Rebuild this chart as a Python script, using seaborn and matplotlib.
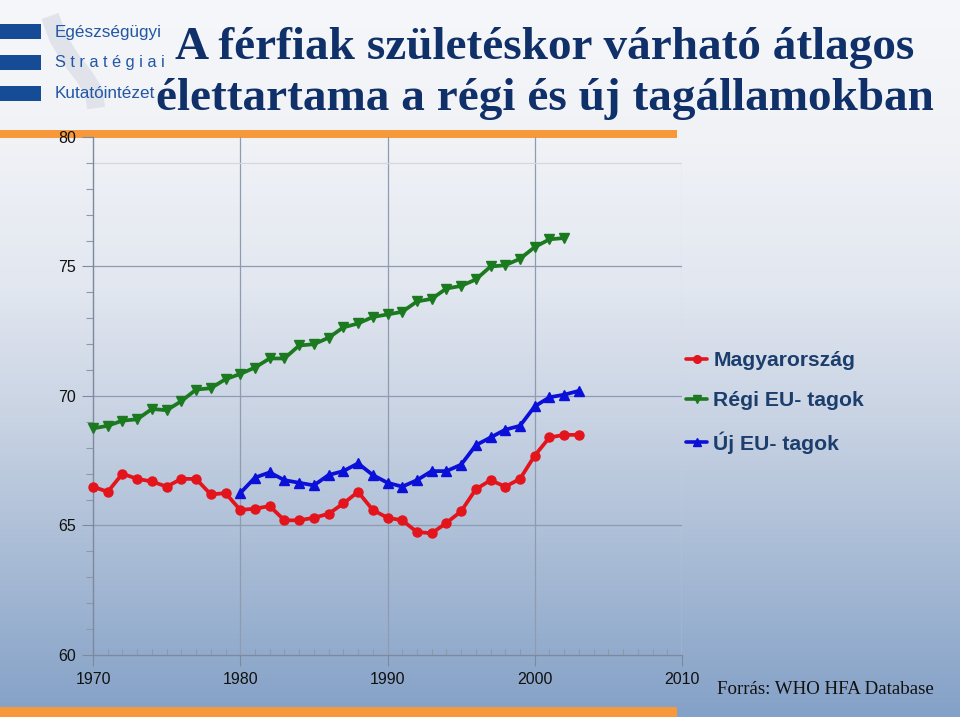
import numpy as np
import pandas as pd
import matplotlib
matplotlib.use("Agg")
import matplotlib.pyplot as plt
from matplotlib.lines import Line2D
from matplotlib.colors import LinearSegmentedColormap
from matplotlib.ticker import MultipleLocator
import seaborn as sns

# ---------------- data ----------------
years_hu = list(range(1970, 2004))
hungary = [66.5, 66.3, 67.0, 66.8, 66.7, 66.5, 66.8, 66.8, 66.2, 66.25,
           65.6, 65.65, 65.75, 65.2, 65.2, 65.3, 65.45, 65.85, 66.3, 65.6,
           65.3, 65.2, 64.75, 64.7, 65.1, 65.55, 66.4, 66.75, 66.5, 66.8,
           67.7, 68.4, 68.5, 68.5]
years_old = list(range(1970, 2003))
old_eu = [68.75, 68.85, 69.05, 69.1, 69.5, 69.45, 69.8, 70.25, 70.3, 70.65,
          70.85, 71.1, 71.45, 71.45, 71.95, 72.0, 72.25, 72.65, 72.8, 73.05,
          73.15, 73.25, 73.65, 73.75, 74.15, 74.25, 74.5, 75.0, 75.05, 75.3,
          75.75, 76.05, 76.1]
years_new = list(range(1980, 2004))
new_eu = [66.25, 66.85, 67.05, 66.75, 66.65, 66.55, 66.95, 67.1, 67.4, 66.95,
          66.65, 66.5, 66.75, 67.1, 67.1, 67.35, 68.1, 68.4, 68.7, 68.85,
          69.6, 69.95, 70.05, 70.2]
series_names = ["Magyarország", "Régi EU- tagok", "Új EU- tagok"]
x_ticks = [1970, 1980, 1990, 2000, 2010]
y_ticks = [60, 65, 70, 75, 80]
title_lines = ["A férfiak születéskor várható átlagos",
               "élettartama a régi és új tagállamokban"]
source_text = "Forrás: WHO HFA Database"
logo_lines = ["Egészségügyi", "S t r a t é g i a i", "Kutatóintézet"]

df = pd.concat([
    pd.DataFrame({"year": years_hu, "value": hungary, "series": series_names[0]}),
    pd.DataFrame({"year": years_old, "value": old_eu, "series": series_names[1]}),
    pd.DataFrame({"year": years_new, "value": new_eu, "series": series_names[2]}),
])

colors = {series_names[0]: "#e3141b", series_names[1]: "#1b7a1f", series_names[2]: "#0a10d8"}
markers = {series_names[0]: "o", series_names[1]: "v", series_names[2]: "^"}

sns.set_theme(style="white")
plt.rcParams["font.family"] = ["Liberation Sans", "DejaVu Sans"]

W, H = 960, 717
fig = plt.figure(figsize=(W / 100, H / 100), dpi=100)

# background gradient
bg = fig.add_axes([0, 0, 1, 1], zorder=-10)
cmap = LinearSegmentedColormap.from_list(
    "bg", [(0.0, "#f6f7fa"), (0.2, "#f0f2f6"), (0.4, "#e2e7f0"),
           (0.6, "#c6d1e2"), (0.8, "#a5b9d4"), (1.0, "#84a1c7")])
grad = np.linspace(0, 1, 256).reshape(-1, 1)
bg.imshow(grad, aspect="auto", cmap=cmap, extent=[0, 1, 0, 1], origin="upper")
bg.set_xlim(0, 1)
bg.set_ylim(0, 1)
bg.axis("off")

def px_rect(x0, y0, x1, y1, color, z=1):
    bg.add_patch(plt.Rectangle((x0 / W, 1 - y1 / H), (x1 - x0) / W, (y1 - y0) / H,
                               color=color, lw=0, zorder=z))

# orange bars
px_rect(0, 130, 677, 138, "#f7993a")
px_rect(0, 707, 677, 717, "#f7993a")

# logo: grey swoosh, blue bars, text
sw_x = np.array([50, 58, 70, 84, 94, 96])
sw_y = np.array([16, 38, 58, 76, 92, 108])
t = np.linspace(0, 1, len(sw_x))
tt = np.linspace(0, 1, 60)
bg.plot(np.interp(tt, t, sw_x) / W, 1 - np.interp(tt, t, sw_y) / H,
        color="#e0e3e9", lw=13, solid_capstyle="butt", zorder=0.5)
logo_blue = "#164b96"
for (y0, y1) in [(24, 39), (55, 70), (86, 101)]:
    px_rect(0, y0, 41, y1, logo_blue)
for i, txt in enumerate(logo_lines):
    bg.text(55 / W, 1 - (32 + 31 * i) / H, txt,
            fontsize=12.3 if i != 1 else 11.8, color="#2257a3",
            ha="left", va="center", zorder=2)

# main axes
x0px, x1px = 93, 682
y0px, y1px = 655, 137
ax = fig.add_axes([x0px / W, 1 - y0px / H, (x1px - x0px) / W, (y0px - y1px) / H])
ax.set_facecolor("none")

sns.lineplot(data=df, x="year", y="value", hue="series", style="series",
             palette=colors, markers=markers, dashes=False, lw=2.7,
             markersize=6.5, markeredgewidth=1.0, legend=False, ax=ax, zorder=5)
for ln in ax.lines:
    ln.set_markeredgecolor(ln.get_color())
    ln.set_clip_on(False)

ax.set_xlim(1970, 2010)
ax.set_ylim(60, 80)
ax.set_xticks(x_ticks)
ax.set_yticks(y_ticks)
ax.xaxis.set_minor_locator(MultipleLocator(1))
ax.yaxis.set_minor_locator(MultipleLocator(1))
ax.set_xlabel("")
ax.set_ylabel("")

for s in ["top", "right"]:
    ax.spines[s].set_visible(False)
for s in ["left", "bottom"]:
    ax.spines[s].set_color("#7d8a9e")
    ax.spines[s].set_linewidth(1.0)

ax.tick_params(axis="y", which="major", direction="out", length=8, width=0.8,
               color="#7d8a9e", labelsize=11.5, labelcolor="#111111", pad=4, left=True)
ax.tick_params(axis="y", which="minor", direction="out", length=5, width=0.8,
               color="#8d98aa", left=True)
ax.tick_params(axis="x", which="major", direction="out", length=8, width=0.8,
               color="#7d8a9e", labelsize=11.5, labelcolor="#111111", pad=4, bottom=True)
ax.tick_params(axis="x", which="minor", direction="in", length=4, width=0.8,
               color="#8d98aa", bottom=True)

# grid lines
for yv in [65, 70, 75]:
    ax.axhline(yv, color="#8f9bb0", lw=0.9, zorder=1)
for xv in [1980, 1990, 2000]:
    ax.axvline(xv, color="#8f9bb0", lw=0.9, zorder=1)
ax.plot([1970, 2010], [79, 79], color="#d3d7e0", lw=0.9, zorder=1)
ax.plot([2010, 2010], [60, 79], color="#d3d7e0", lw=0.9, zorder=0.9)

# title
title_color = "#0f3068"
for i, txt in enumerate(title_lines):
    fig.text(545 / W, 1 - (48 + 51 * i) / H, txt, fontsize=34, fontweight="bold",
             family="Liberation Serif", color=title_color, ha="center", va="center")

# legend
handles = [Line2D([], [], color=colors[n], marker=markers[n], lw=2.6, markersize=5.5,
                  markeredgecolor=colors[n]) for n in series_names]
leg = fig.legend(handles, series_names, loc="upper left",
                 bbox_to_anchor=(686 / W, 1 - 351 / H), frameon=False,
                 borderpad=0, borderaxespad=0,
                 handlelength=1.0, handletextpad=0.3, labelspacing=1.0,
                 prop={"family": "Liberation Sans", "weight": "bold", "size": 15.2})
for t_ in leg.get_texts():
    t_.set_color("#1c3e6d")

# source
fig.text(717 / W, 1 - 689 / H, source_text, fontsize=13.6, family="Liberation Serif",
         color="#111111", ha="left", va="center")

fig.savefig("out.png", dpi=100)
